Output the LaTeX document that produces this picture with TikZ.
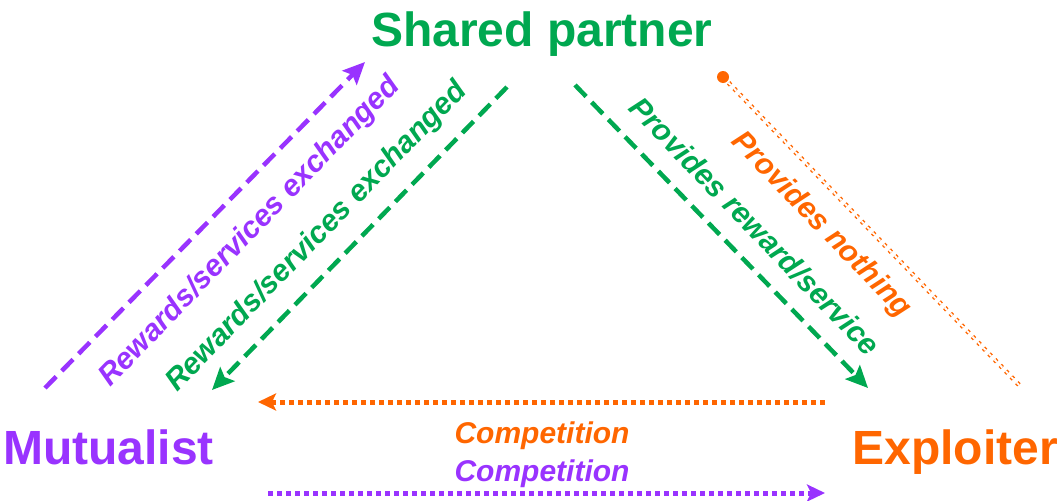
\documentclass[tikz,border=0pt]{standalone}
\usepackage{fontspec}
\setmainfont{Liberation Sans}
\usetikzlibrary{arrows.meta}
\definecolor{mutpurple}{RGB}{153,51,255}
\definecolor{sharedgreen}{RGB}{0,168,80}
\definecolor{exporange}{RGB}{255,102,0}

\begin{document}
\begin{tikzpicture}[x=1pt,y=-1pt,
  party/.style={font=\fontsize{48}{50}\selectfont\bfseries, inner sep=0pt},
  lbl/.style={font=\fontsize{30}{32}\selectfont\bfseries\itshape, inner sep=0pt},
  dasharrow/.style={line width=4.5pt, dash pattern=on 16pt off 8pt,
    -{Stealth[length=22pt,width=20pt,inset=4pt]}},
  dotarrow/.style={line width=5pt, dash pattern=on 5pt off 4pt,
    -{Stealth[length=18pt,width=17pt,inset=4pt]}},
  nothingline/.style={draw=exporange, double=white, line width=1.4pt,
    double distance=1.8pt, dash pattern=on 3pt off 5pt}
]
\useasboundingbox (0,0) rectangle (1061,501);

% the three parties
\node[party, text=sharedgreen, anchor=base] (sp) at (542,46) {Shared partner};
\node[party, text=mutpurple, anchor=base west] (mu) at (3,464) {Mutualist};
\node[party, text=exporange, anchor=base east] (ex) at (1058,464) {Exploiter};

% connector end points
\coordinate (mutUp0) at (45,388);
\coordinate (mutUp1) at (365,62);
\coordinate (spMut0) at (507,87);
\coordinate (spMut1) at (212,390);
\coordinate (spExp0) at (575,85);
\coordinate (spExp1) at (868,388);
\coordinate (expNo0) at (723,77);
\coordinate (expNo1) at (1020,386);
\coordinate (compO0) at (825,402);
\coordinate (compO1) at (258,402);
\coordinate (compP0) at (268,493);
\coordinate (compP1) at (825,493);

% mutualist <-> shared partner
\draw[dasharrow, mutpurple] (mutUp0) -- (mutUp1);
\draw[dasharrow, sharedgreen] (spMut0) -- (spMut1);
\node[lbl, text=mutpurple, rotate=46] (lmut) at (250,232) {Rewards/services exchanged};
\node[lbl, text=sharedgreen, rotate=46] (lspm) at (317,237) {Rewards/services exchanged};

% shared partner <-> exploiter
\draw[dasharrow, sharedgreen] (spExp0) -- (spExp1);
\node[lbl, text=sharedgreen, rotate=-46] (lspe) at (755,226) {Provides reward/service};
\draw[nothingline] (expNo0) -- (expNo1);
\fill[exporange] (expNo0) circle (6pt);
\node[lbl, text=exporange, rotate=-46] (lexp) at (821,225) {Provides nothing};

% competition between mutualist and exploiter
\draw[dotarrow, exporange] (compO0) -- (compO1);
\node[lbl, text=exporange, anchor=base] (cexp) at (542,443) {Competition};
\node[lbl, text=mutpurple, anchor=base] (cmut) at (542,481) {Competition};
\draw[dotarrow, mutpurple] (compP0) -- (compP1);
\end{tikzpicture}
\end{document}
